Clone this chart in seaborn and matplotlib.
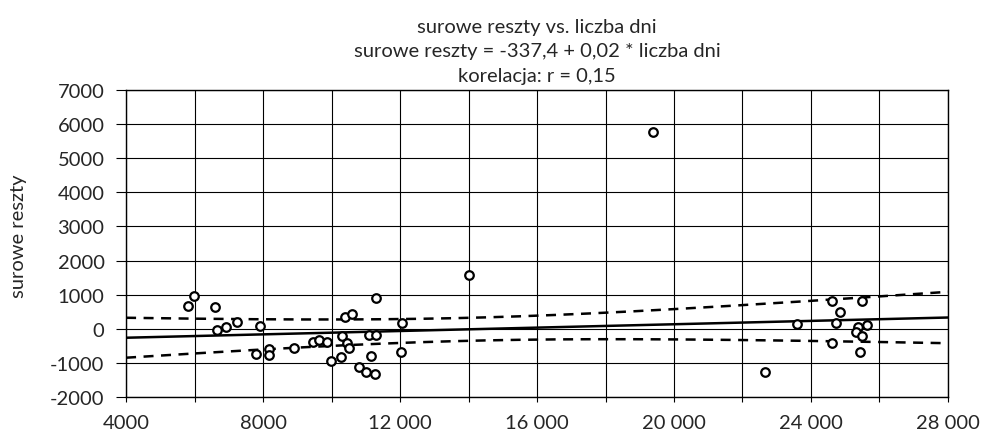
import matplotlib
matplotlib.use("Agg")
import matplotlib.pyplot as plt
import numpy as np
import pandas as pd
import seaborn as sns
from matplotlib.ticker import FixedLocator, FixedFormatter

# dane
liczba_dni = [5819, 5995, 6599, 6647, 6911, 7250, 7904, 7787, 8176, 8185,
              8915, 9470, 9645, 9860, 9977, 10298, 10395, 10590, 10444, 10521,
              10278, 10813, 10999, 11271, 11145, 11105, 11300, 11291, 12059, 12040,
              14006, 19398, 22668, 23593, 24606, 24732, 24849, 24606, 25491, 25374,
              25627, 25316, 25491, 25423]
surowe_reszty = [677, 968, 631, -29, 49, 195, 87, -727, -581, -776,
                 -552, -378, -340, -398, -951, -212, 340, 436, -407, -561,
                 -823, -1134, -1279, -1337, -805, -195, -195, 892, 174, -678,
                 1579, 5760, -1279, 136, 805, 165, 494, -427, 805, 38,
                 96, -96, -224, -678]

x_ticks = [4000, 8000, 12000, 16000, 20000, 24000, 28000]
x_ticklabels = ["4000", "8000", "12 000", "16 000", "20 000", "24 000", "28 000"]
y_ticks = [-2000, -1000, 0, 1000, 2000, 3000, 4000, 5000, 6000, 7000]
y_ticklabels = ["-2000", "-1000", "0", "1000", "2000", "3000", "4000", "5000", "6000", "7000"]

title = ("surowe reszty vs. liczba dni\n"
         "surowe reszty = -337,4 + 0,02 * liczba dni\n"
         "korelacja: r = 0,15")

df = pd.DataFrame({"liczba dni": liczba_dni, "surowe reszty": surowe_reszty})

sns.set_style("white")
plt.rcParams['font.family'] = ['Lato', 'DejaVu Sans']

fig = plt.figure(figsize=(9.85, 4.31), dpi=100)
ax = fig.add_axes([0.128, 0.0766, 0.8344, 0.7123])

# regresja liniowa + 95% przedzial ufnosci
x = df["liczba dni"].values.astype(float)
y = df["surowe reszty"].values.astype(float)
n = len(x)
b, a = np.polyfit(x, y, 1)
res = y - (a + b * x)
s = np.sqrt(np.sum(res ** 2) / (n - 2))
sxx = np.sum((x - x.mean()) ** 2)
xs = np.linspace(4000, 28000, 200)
ys = a + b * xs
half = 2.018 * s * np.sqrt(1 / n + (xs - x.mean()) ** 2 / sxx)

ax.plot(xs, ys, color='black', lw=1.8, zorder=3)
ax.plot(xs, ys + half, color='black', lw=1.8, ls=(0, (4, 3)), zorder=3)
ax.plot(xs, ys - half, color='black', lw=1.8, ls=(0, (4, 3)), zorder=3)

sns.scatterplot(data=df, x="liczba dni", y="surowe reszty", ax=ax,
                marker='o', s=38, facecolor='white', edgecolor='black',
                linewidth=1.6, zorder=4)

ax.set_xlim(4000, 28000)
ax.set_ylim(-2000, 7000)
ax.xaxis.set_major_locator(FixedLocator(x_ticks))
ax.xaxis.set_major_formatter(FixedFormatter(x_ticklabels))
ax.xaxis.set_minor_locator(FixedLocator(np.arange(6000, 28000, 4000)))
ax.yaxis.set_major_locator(FixedLocator(y_ticks))
ax.yaxis.set_major_formatter(FixedFormatter(y_ticklabels))

ax.grid(True, which='both', color='black', lw=0.8)
ax.tick_params(axis='x', which='both', direction='out', length=3.6, width=0.8,
               color='black', labelsize=14.5, pad=8.5, bottom=True)
ax.tick_params(axis='y', which='both', direction='out', length=7.5, width=0.8,
               color='black', labelsize=14.5, pad=8, left=True)
for sp in ax.spines.values():
    sp.set_color('black')
    sp.set_linewidth(1.0)

ax.set_xlabel("")
ax.set_ylabel("surowe reszty", fontsize=14.5)
ax.yaxis.set_label_coords(-0.120, 0.528)
ax.set_title(title, fontsize=14.5, linespacing=1.55, pad=6.5)

fig.savefig("out.png", dpi=100)
